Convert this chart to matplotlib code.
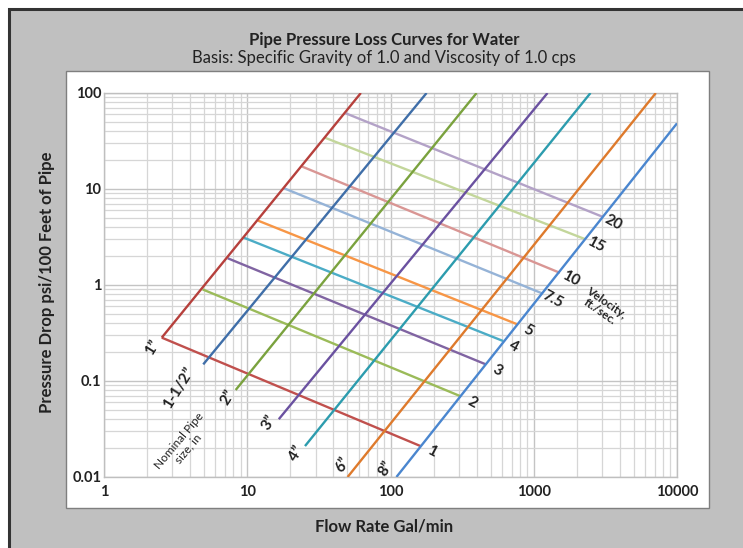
import matplotlib
matplotlib.use("Agg")
import matplotlib.pyplot as plt
from matplotlib.patches import Rectangle
from matplotlib.ticker import FixedLocator, FixedFormatter, LogLocator, NullFormatter

plt.rcParams['font.family'] = ['Lato', 'DejaVu Sans']

# ---- data ----
pipe_sizes = ['1\u201d', '1-1/2\u201d', '2\u201d', '3\u201d', '4\u201d', '6\u201d', '8\u201d']
pipe_q_start = [2.53, 4.93, 8.3, 16.6, 25.3, 50.2, 110]
pipe_dp_start = [0.283, 0.149, 0.0806, 0.040, 0.021, 0.01, 0.01]
pipe_q_end = [62.1, 178.6, 399, 1248, 2490, 7115, 10000]
pipe_dp_end = [100, 100, 100, 100, 100, 100, 48.3]
pipe_colors = ['#B6403C', '#3F6EA8', '#7AA23E', '#6A51A0', '#2C9CAE', '#DE7A2C', '#4A86CF']

velocities = ['1', '2', '3', '4', '5', '7.5', '10', '15', '20']
vel_q_start = [2.53, 4.88, 7.30, 9.48, 11.9, 18.0, 24.2, 34.9, 48.6]
vel_dp_start = [0.283, 0.90, 1.90, 3.11, 4.68, 10.2, 17.1, 34.2, 61.5]
vel_q_end = [162, 311, 463, 611, 766, 1140, 1521, 2274, 3020]
vel_dp_end = [0.021, 0.069, 0.149, 0.261, 0.39, 0.82, 1.34, 3.01, 5.14]
vel_colors = ['#C0504D', '#9BBB59', '#8064A2', '#4BACC6', '#F79646',
              '#95B3D7', '#D99694', '#C3D69B', '#B3A2C7']

x_ticks = [1, 10, 100, 1000, 10000]
x_tick_labels = ['1', '10', '100', '1000', '10000']
y_ticks = [0.01, 0.1, 1, 10, 100]
y_tick_labels = ['0.01', '0.1', '1', '10', '100']

W, H = 743, 548
fig = plt.figure(figsize=(W / 100, H / 100), dpi=100, facecolor='white')

# gray outer panel with dark border
fig.patches.append(Rectangle((9 / W, -0.05), 1.1, 1 - 9 / H + 0.05, transform=fig.transFigure,
                             facecolor='#C0C0C0', edgecolor='#333333', linewidth=2.2, zorder=-3))
# white inner box
fig.patches.append(Rectangle((66 / W, 1 - 508 / H), (709 - 66) / W, (508 - 71) / H,
                             transform=fig.transFigure, facecolor='white',
                             edgecolor='#7F7F7F', linewidth=1.0, zorder=-2))

ax = fig.add_axes([104 / W, 1 - 477 / H, (677 - 104) / W, (477 - 93) / H])
ax.set_zorder(2)
ax.set_facecolor('white')
ax.set_xscale('log')
ax.set_yscale('log')
ax.set_xlim(1, 10000)
ax.set_ylim(0.01, 100)

ax.xaxis.set_major_locator(FixedLocator(x_ticks))
ax.xaxis.set_major_formatter(FixedFormatter(x_tick_labels))
ax.yaxis.set_major_locator(FixedLocator(y_ticks))
ax.yaxis.set_major_formatter(FixedFormatter(y_tick_labels))
ax.xaxis.set_minor_locator(LogLocator(base=10, subs=range(2, 10)))
ax.yaxis.set_minor_locator(LogLocator(base=10, subs=range(2, 10)))
ax.xaxis.set_minor_formatter(NullFormatter())
ax.yaxis.set_minor_formatter(NullFormatter())
ax.tick_params(which='both', length=0)
ax.tick_params(axis='x', pad=6, labelsize=10.5, labelcolor='#222222')
ax.tick_params(axis='y', pad=2, labelsize=10.5, labelcolor='#222222')
for lab in ax.get_xticklabels() + ax.get_yticklabels():
    lab.set_fontweight('bold')

ax.grid(True, which='major', color='#C4C4C4', linewidth=1.0)
ax.grid(True, which='minor', color='#D6D6D6', linewidth=0.9)
ax.set_axisbelow(True)
for s in ax.spines.values():
    s.set_color('#BFBFBF')
    s.set_linewidth(1.0)

# velocity lines
for i, v in enumerate(velocities):
    ax.plot([vel_q_start[i], vel_q_end[i]], [vel_dp_start[i], vel_dp_end[i]],
            color=vel_colors[i], linewidth=1.7, solid_capstyle='butt', zorder=3)
    ax.annotate(v, xy=(vel_q_end[i], vel_dp_end[i]), xytext=(8.0, -4.2),
                textcoords='offset points', ha='center', va='center',
                rotation=-28, fontsize=11, fontweight='bold', color='#222222')

# pipe lines
pipe_label_offsets = [(-6.5, -7.0), (-17.5, -17.0), (-5.8, -5.5), (-6.8, -2.5),
                      (-6.0, -5.5), (-3.6, 8.6), (-7.7, 5.8)]
for i, p in enumerate(pipe_sizes):
    ax.plot([pipe_q_start[i], pipe_q_end[i]], [pipe_dp_start[i], pipe_dp_end[i]],
            color=pipe_colors[i], linewidth=1.7, solid_capstyle='butt', zorder=4)
    ax.annotate(p, xy=(pipe_q_start[i], pipe_dp_start[i]), xytext=pipe_label_offsets[i],
                textcoords='offset points', ha='center', va='center',
                rotation=58, fontsize=11, fontweight='bold', color='#222222')

ax.text(3.6, 0.0218, 'Nominal Pipe\nsize, in', rotation=50, ha='center', va='center',
        fontsize=8.5, color='#222222', linespacing=1.0, rotation_mode='anchor')
ax.text(3035, 0.59, 'Velocity,\nft./sec.', rotation=-35, ha='center', va='center',
        fontsize=8.5, fontweight='bold', color='#222222', linespacing=1.0,
        rotation_mode='anchor')

# titles and axis labels
fig.text(384 / W, 1 - 40 / H, 'Pipe Pressure Loss Curves for Water', ha='center', va='center',
         fontsize=12, fontweight='bold', color='#222222')
fig.text(384 / W, 1 - 58 / H, 'Basis: Specific Gravity of 1.0 and Viscosity of 1.0 cps',
         ha='center', va='center', fontsize=12, color='#222222')
fig.text(47 / W, 1 - 282 / H, 'Pressure Drop psi/100 Feet of Pipe', rotation=90,
         ha='center', va='center', fontsize=12, fontweight='bold', color='#222222')
fig.text(384 / W, 1 - 527 / H, 'Flow Rate Gal/min', ha='center', va='center',
         fontsize=12, fontweight='bold', color='#222222')

fig.savefig('out.png', dpi=100, facecolor='white')
